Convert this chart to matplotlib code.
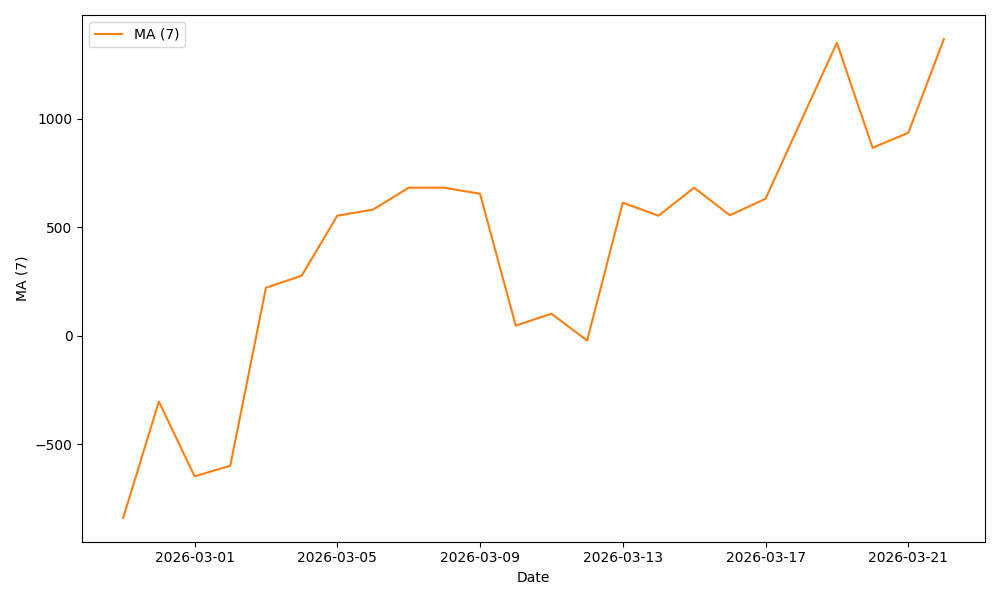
import matplotlib
matplotlib.use("Agg")
import matplotlib.pyplot as plt
import pandas as pd

dates = pd.date_range("2026-02-27", "2026-03-22", freq="D")
ma7 = [-840, -304, -649, -600, 221, 276, 553, 581, 682, 682, 654, 46, 101, -23,
       613, 553, 682, 555, 631, 992, 1350, 866, 935, 1368]

fig, ax = plt.subplots(figsize=(10, 6), dpi=100)
ax.plot(dates, ma7, color="#ff7f0e", label="MA (7)")
ax.set_xlabel("Date")
ax.set_ylabel("MA (7)")
ax.legend(loc="upper left")
ax.set_xticks(pd.to_datetime(["2026-03-01", "2026-03-05", "2026-03-09", "2026-03-13", "2026-03-17", "2026-03-21"]))
ax.xaxis.set_major_formatter(matplotlib.dates.DateFormatter("%Y-%m-%d"))
fig.tight_layout()
fig.savefig("out.png")
